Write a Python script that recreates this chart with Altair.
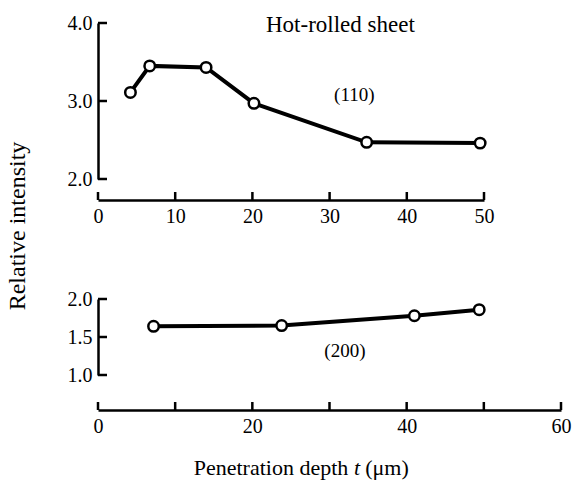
import altair as alt
import pandas as pd

# (110) reflection: penetration depth (um) vs relative intensity
depth_110 = [4.2, 6.7, 14.0, 20.2, 34.8, 49.5]
intensity_110 = [3.11, 3.45, 3.43, 2.97, 2.47, 2.46]

# (200) reflection
depth_200 = [7.2, 23.8, 41.0, 49.4]
intensity_200 = [1.64, 1.65, 1.78, 1.86]

# axis ticks and labels
top_y_ticks = [2.0, 3.0, 4.0]
top_x_ticks = [0, 10, 20, 30, 40, 50]
bottom_y_ticks = [1.0, 1.5, 2.0]
bottom_x_ticks = [0, 10, 20, 30, 40, 50, 60]
bottom_x_labels = [0, 20, 40, 60]

panel_title = "Hot-rolled sheet"
label_110 = "(110)"
label_200 = "(200)"
y_title = "Relative intensity"
x_title_parts = ["Penetration depth", "t", "(\u03bcm)"]

FONT = "Liberation Serif"
INK = "black"

# layout (pixels inside the plot area)
W_TOP, W_BOT = 386, 463
H = 352
TOP_RANGE = [156, 0]
BOT_RANGE = [352, 276]
TOP_XAXIS_Y = 177
BOT_XAXIS_Y = 387

x_top = alt.Scale(domain=[0, 50], range=[0, W_TOP], nice=False, zero=False)
y_top = alt.Scale(domain=[2, 4], range=TOP_RANGE, nice=False, zero=False)
x_bot = alt.Scale(domain=[0, 60], range=[0, W_BOT], nice=False, zero=False)
y_bot = alt.Scale(domain=[1, 2], range=BOT_RANGE, nice=False, zero=False)

common_axis = dict(
    ticks=False, grid=False, title=None,
    domainColor=INK, domainWidth=2.5,
    labelFont=FONT, labelFontSize=20, labelColor=INK,
    labelFlush=False, labelOverlap=False, labelBound=False,
)

x_top_axis = alt.Axis(values=top_x_ticks, orient="bottom", offset=TOP_XAXIS_Y - H,
                      labelPadding=6, format="d", **common_axis)
y_top_axis = alt.Axis(values=top_y_ticks, orient="left", labelPadding=6,
                      format=".1f", **common_axis)
x_bot_axis = alt.Axis(values=bottom_x_labels, orient="bottom", offset=BOT_XAXIS_Y - H,
                      labelPadding=6, format="d", **common_axis)
y_bot_axis = alt.Axis(values=bottom_y_ticks, orient="left", labelPadding=6,
                      format=".1f", **common_axis)


def series_layers(xs, ys, xs_scale, ys_scale, x_axis, y_axis):
    df = pd.DataFrame({"x": xs, "y": ys})
    base = alt.Chart(df).encode(
        x=alt.X("x:Q", scale=xs_scale, axis=x_axis),
        y=alt.Y("y:Q", scale=ys_scale, axis=y_axis),
    )
    line = base.mark_line(color=INK, strokeWidth=4)
    pts = base.mark_point(shape="circle", filled=True, fill="white",
                          stroke=INK, strokeWidth=2.5, size=110, opacity=1)
    return [line, pts]


def tick_layers(xt, yt, xs_scale, ys_scale, axis_y):
    ytk = alt.Chart(pd.DataFrame({"y": yt})).mark_rule(color=INK, strokeWidth=2.5).encode(
        y=alt.Y("y:Q", scale=ys_scale), x=alt.value(0), x2=alt.value(9))
    xtk = alt.Chart(pd.DataFrame({"x": xt})).mark_rule(color=INK, strokeWidth=2.5).encode(
        x=alt.X("x:Q", scale=xs_scale), y=alt.value(axis_y), y2=alt.value(axis_y - 8))
    return [ytk, xtk]


def note(text, x, y, size=19, **kw):
    return alt.Chart(pd.DataFrame({"t": [text]})).mark_text(
        font=FONT, fontSize=size, color=INK, **kw
    ).encode(text="t:N", x=x, y=y)


top = alt.layer(
    *series_layers(depth_110, intensity_110, x_top, y_top, x_top_axis, y_top_axis),
    *tick_layers(top_x_ticks, top_y_ticks, x_top, y_top, TOP_XAXIS_Y),
    note(panel_title, alt.X(datum=31.4, type="quantitative", scale=x_top),
         alt.Y(datum=3.97, type="quantitative", scale=y_top), size=23),
    note(label_110, alt.X(datum=33.2, type="quantitative", scale=x_top),
         alt.Y(datum=3.08, type="quantitative", scale=y_top)),
)

bottom = alt.layer(
    *series_layers(depth_200, intensity_200, x_bot, y_bot, x_bot_axis, y_bot_axis),
    *tick_layers(bottom_x_ticks, bottom_y_ticks, x_bot, y_bot, BOT_XAXIS_Y),
    note(label_200, alt.X(datum=32.0, type="quantitative", scale=x_bot),
         alt.Y(datum=1.32, type="quantitative", scale=y_bot)),
    note(y_title, alt.value(-80), alt.value(203), size=24, angle=270),
    note(x_title_parts[0], alt.value(173), alt.value(445), size=22),
    note(x_title_parts[1], alt.value(259), alt.value(445), size=22, fontStyle="italic"),
    note(x_title_parts[2], alt.value(289), alt.value(445), size=22),
)

chart = alt.layer(top, bottom).resolve_scale(
    x="independent", y="independent"
).resolve_axis(
    x="independent", y="independent"
).properties(
    width=W_BOT, height=H,
    padding={"left": 98, "top": 23, "right": 13, "bottom": 108},
    autosize=alt.AutoSizeParams(type="none"),
    background="white",
).configure_view(stroke=None)

chart.save("out.html", embed_options={"renderer": "svg", "actions": False})
